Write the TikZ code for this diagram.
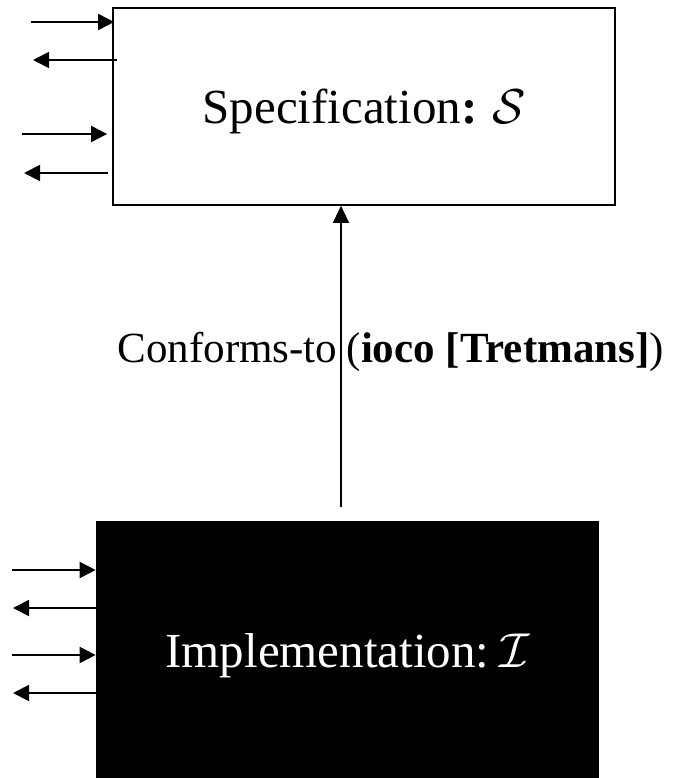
\documentclass[tikz,border=0pt]{standalone}
\usepackage{fontspec}
\setmainfont{Liberation Serif}
\usetikzlibrary{arrows.meta}
% scalable calligraphic letters
\DeclareFontShape{OMS}{cmsy}{m}{n}{<->cmsy10}{}

\begin{document}
\begin{tikzpicture}[x=1pt,y=-1pt]
        %
        % `block' is used for both systems, `port' for the small I/O arrows.
        \tikzstyle{block} = [draw,line width=1.7pt,minimum width=502pt,inner sep=0pt,text depth=0pt]
        \tikzstyle{port} = [line width=1.9pt,-{Triangle[length=16pt,width=16pt]}]
        \tikzstyle{big} = [font=\fontsize{49}{57}\selectfont]
        \tikzstyle{label} = [font=\fontsize{43}{50}\selectfont]
        %
        \useasboundingbox (0,0) rectangle (673,778);
        %
        % Specification (top)
        \node[block,big,minimum height=197pt] (spec) at (364,106.5)
        	{Specification\textbf{:}\hspace{0.3em}$\mathcal{S}$};
        %
        % Implementation (bottom, black)
        \node[block,big,fill=black,text=white,minimum height=256pt] (impl) at (347.5,650)
        	{Implementation:\hspace{0.2em}$\mathcal{I}$};
        %
        % Ports of the specification
        \coordinate (sin1) at (31,22);
        \coordinate (sout1) at (33,60);
        \coordinate (sin2) at (22,134);
        \coordinate (sout2) at (24,173);
        \draw[port] (sin1) -- ([xshift=2pt]sin1 -| spec.west);
        \draw[port] ([xshift=5pt]sout1 -| spec.west) -- (sout1);
        \draw[port] (sin2) -- ([xshift=-5pt]sin2 -| spec.west);
        \draw[port] ([xshift=-4pt]sout2 -| spec.west) -- (sout2);
        %
        % Ports of the implementation
        \coordinate (iin1) at (12,570);
        \coordinate (iout1) at (13,608);
        \coordinate (iin2) at (12,655);
        \coordinate (iout2) at (13,693);
        \draw[port] (iin1) -- (iin1 -| impl.west);
        \draw[port] (iout1 -| impl.west) -- (iout1);
        \draw[port] (iin2) -- (iin2 -| impl.west);
        \draw[port] (iout2 -| impl.west) -- (iout2);
        %
        % Conformance relation
        \coordinate (conf) at (341,507);
        \draw[line width=1.4pt,-{Triangle[length=17pt,width=16pt]}] (conf) -- (conf |- spec.south)
        	node[pos=0.48,label,anchor=base east,xshift=-3pt,inner sep=0pt] (rel) {Conforms-to}
        	node[pos=0.48,label,anchor=base west,xshift=5pt,inner sep=0pt] (ref) {(\textbf{ioco [Tretmans]})};
        %
\end{tikzpicture}
\end{document}
